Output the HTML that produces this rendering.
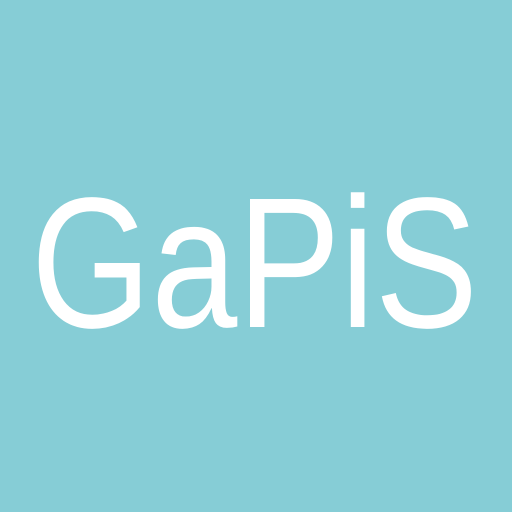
<!DOCTYPE html>
<html>
<head>
<meta charset="utf-8">
<style>
  html, body { margin: 0; padding: 0; }
  body { width: 512px; height: 512px; background: #86cdd6; overflow: hidden; }
  svg { display: block; }
</style>
</head>
<body>
<svg width="512" height="512" viewBox="0 0 512 512">
  <rect x="0" y="0" width="512" height="512" fill="#86cdd6"/>
  <text x="31" y="327" font-family="'Liberation Sans', sans-serif" font-size="186" fill="#ffffff" textLength="447" lengthAdjust="spacingAndGlyphs">GaPiS</text>
</svg>
</body>
</html>
